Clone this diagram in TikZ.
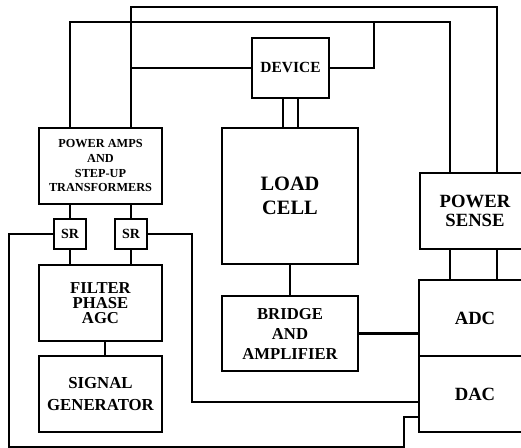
\documentclass[tikz,border=0pt]{standalone}
\usepackage{fontspec}
\setmainfont{Liberation Serif}
\usepackage{tikz}
\usetikzlibrary{positioning}

\begin{document}
\begin{tikzpicture}[
  x=0.75pt,y=-0.75pt,
  wire/.style={line width=1.7pt,line cap=rect},
  box/.style={draw,line width=1.7pt,fill=white,align=center,inner sep=0pt,font=\bfseries},
  smalltxt/.style={font=\bfseries\fontsize{9.2}{11}\selectfont},
  midtxt/.style={font=\bfseries\fontsize{12.5}{11.5}\selectfont},
  bigtxt/.style={font=\bfseries\fontsize{14}{13.8}\selectfont}
]
\clip (0,0) rectangle (521,448);
% wires behind the boxes
\draw[wire] (70,128) -- (70,22) -| (450,173);
\draw[wire] (131,128) -- (131,7) -| (497,173);
\draw[wire] (131,68) -- (252,68);
\draw[wire] (329,68) -| (374,22);
\node[box,smalltxt,minimum width=123*0.75pt,minimum height=76*0.75pt] (amps) at (100.5,166)
  {POWER AMPS\\AND\\STEP-UP\\TRANSFORMERS};
\node[box,font=\bfseries\fontsize{11.6}{12}\selectfont,minimum width=77*0.75pt,minimum height=60*0.75pt] (device) at (290.5,68) {DEVICE};
\node[box,font=\bfseries\fontsize{15.3}{17.5}\selectfont,minimum width=136*0.75pt,minimum height=136*0.75pt] (load) at (290,196) {LOAD\\CELL};
\node[box,bigtxt,minimum width=110*0.75pt,minimum height=76*0.75pt] (sense) at (475,211) {POWER\\SENSE};
\node[box,font=\bfseries\fontsize{10.5}{11}\selectfont,minimum width=32*0.75pt,minimum height=30*0.75pt] (srL) at (70,234) {SR};
\node[box,font=\bfseries\fontsize{10.5}{11}\selectfont,minimum width=32*0.75pt,minimum height=30*0.75pt] (srR) at (131,234) {SR};
\node[box,midtxt,minimum width=123*0.75pt,minimum height=76*0.75pt] (filter) at (100.5,303) {FILTER\\PHASE\\AGC};
\node[box,font=\bfseries\fontsize{12.6}{16}\selectfont,minimum width=123*0.75pt,minimum height=76*0.75pt] (siggen) at (100.5,394) {SIGNAL\\GENERATOR};
\node[box,font=\bfseries\fontsize{12.5}{15}\selectfont,minimum width=136*0.75pt,minimum height=75*0.75pt] (bridge) at (290,333.5) {BRIDGE\\AND\\AMPLIFIER};
\node[box,font=\bfseries\fontsize{14}{15}\selectfont,minimum width=112*0.75pt,minimum height=76*0.75pt] (adc) at (475,318) {ADC};
\node[box,font=\bfseries\fontsize{14}{15}\selectfont,minimum width=112*0.75pt,minimum height=76*0.75pt] (dac) at (475,394) {DAC};

\draw[wire] (device.south -| 283,0) -- (load.north -| 283,0);
\draw[wire] (device.south -| 298,0) -- (load.north -| 298,0);
\draw[wire] (srL |- amps.south) -- (srL.north);
\draw[wire] (srR |- amps.south) -- (srR.north);
\draw[wire] (srL.south) -- (srL |- filter.north);
\draw[wire] (srR.south) -- (srR |- filter.north);
\draw[wire] (filter.south -| 105,0) -- (siggen.north -| 105,0);
\draw[wire] (load.south) -- (bridge.north);
\draw[wire] (bridge.east) -- (bridge.east -| adc.west);
\draw[wire] (sense.south -| 450,0) -- (adc.north -| 450,0);
\draw[wire] (sense.south -| 497,0) -- (adc.north -| 497,0);
\draw[wire] (srL.west) -| (9,447) -| (404,417) -- (dac.west |- 0,417);
\draw[wire] (srR.east) -| (192,402) -- (dac.west |- 0,402);
\end{tikzpicture}
\end{document}
